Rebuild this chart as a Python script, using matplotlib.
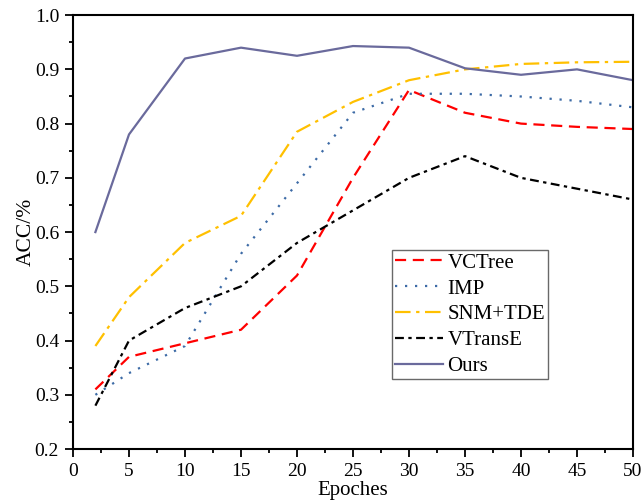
import matplotlib
matplotlib.use("Agg")
import matplotlib.pyplot as plt
from matplotlib.ticker import MultipleLocator

plt.rcParams['font.family'] = ['Liberation Serif', 'DejaVu Serif']

epochs = [2, 5, 10, 15, 20, 25, 30, 35, 40, 45, 50]
vctree = [0.31, 0.37, 0.395, 0.42, 0.52, 0.70, 0.862, 0.82, 0.80, 0.794, 0.79]
imp = [0.30, 0.34, 0.39, 0.56, 0.69, 0.82, 0.855, 0.855, 0.85, 0.842, 0.83]
snm_tde = [0.39, 0.48, 0.58, 0.63, 0.785, 0.84, 0.88, 0.90, 0.91, 0.913, 0.914]
vtranse = [0.28, 0.40, 0.46, 0.50, 0.58, 0.64, 0.70, 0.74, 0.70, 0.68, 0.66]
ours = [0.60, 0.78, 0.92, 0.94, 0.925, 0.943, 0.94, 0.902, 0.89, 0.90, 0.88]

fig = plt.figure(figsize=(6.42, 5.04), dpi=100)
ax = fig.add_axes([0.1137, 0.109, 0.8723, 0.861])

ax.plot(epochs, vctree, color='#FF0000', lw=1.6, dashes=(5, 3), label='VCTree')
ax.plot(epochs, imp, color='#3D6BA6', lw=1.6, dashes=(1, 3.5), label='IMP')
ax.plot(epochs, snm_tde, color='#FFC000', lw=1.6, dashes=(7, 2.5, 1.5, 2.5), label='SNM+TDE')
ax.plot(epochs, vtranse, color='#000000', lw=1.6, dashes=(4, 2, 1.5, 2), label='VTransE')
ax.plot(epochs, ours, color='#6A6A9C', lw=1.6, label='Ours')

ax.set_xlim(0, 50)
ax.set_ylim(0.2, 1.0)
ax.xaxis.set_major_locator(MultipleLocator(5))
ax.xaxis.set_minor_locator(MultipleLocator(2.5))
ax.yaxis.set_major_locator(MultipleLocator(0.1))
ax.yaxis.set_minor_locator(MultipleLocator(0.05))
ax.set_yticklabels([f"{v:.1f}" for v in ax.get_yticks()])
ax.tick_params(which='major', direction='out', length=6, width=1.3, labelsize=14, pad=4)
ax.tick_params(which='minor', direction='out', length=3, width=1.3)
for s in ax.spines.values():
    s.set_linewidth(1.5)

ax.set_xlabel('Epoches', fontsize=15, labelpad=1)
ax.set_ylabel('ACC/%', fontsize=15.5, labelpad=-1)

leg = ax.legend(loc='lower left', bbox_to_anchor=(0.570, 0.161), fontsize=15,
                frameon=True, fancybox=False, edgecolor='#444444',
                handlelength=2.3, handletextpad=0.2, labelspacing=0.3,
                borderpad=0.15, borderaxespad=0)
leg.get_frame().set_linewidth(1.0)

fig.savefig('out.png', dpi=100)
